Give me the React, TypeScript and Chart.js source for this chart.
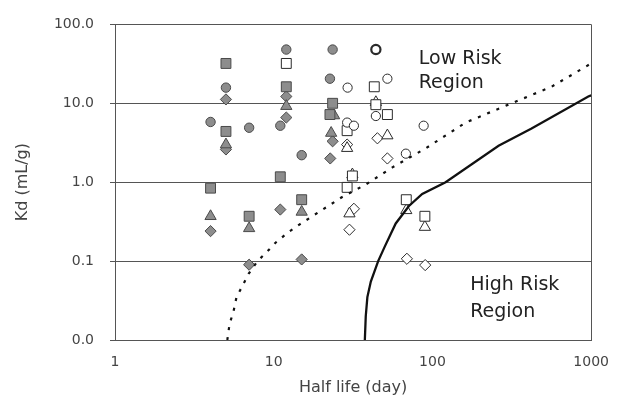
import React, { useEffect, useRef } from "react";
import { Chart, registerables } from "chart.js";

Chart.register(...registerables);

// Axis ticks
const xTickValues = [1, 10, 100, 1000];
const yTickValues = [0.01, 0.1, 1, 10, 100];

// Filled (gray) markers
const filledCircleX = [4, 5, 7, 12, 11, 15, 23.5, 22.6];
const filledCircleY = [5.8, 15.8, 4.9, 48, 5.2, 2.2, 48, 20.5];

const filledSquareX = [5, 5, 4, 12, 11, 15, 7, 23.5, 22.6];
const filledSquareY = [32, 4.4, 0.84, 16.2, 1.17, 0.6, 0.37, 10, 7.2];

const filledTriangleX = [5, 12, 4, 7, 15, 24, 23];
const filledTriangleY = [3.0, 9.2, 0.37, 0.26, 0.42, 7.0, 4.2];

const filledDiamondX = [5, 5, 12, 12, 4, 11, 7, 15, 22.7, 23.5];
const filledDiamondY = [11.2, 2.6, 12.2, 6.6, 0.24, 0.45, 0.09, 0.105, 2.0, 3.3];

// Open (white) markers
const openCircleX = [44, 29.2, 52, 29, 32, 88, 68, 44];
const openCircleY = [48, 15.8, 20.5, 5.7, 5.2, 5.2, 2.3, 6.9];

const openSquareX = [12, 43, 44, 52, 29, 31.3, 29, 68.4, 89.6];
const openSquareY = [32, 16.2, 9.6, 7.2, 4.5, 1.2, 0.86, 0.6, 0.37];

const openTriangleX = [44, 52, 29, 31.3, 30, 68.4, 89.6];
const openTriangleY = [10.3, 3.9, 2.7, 1.25, 0.4, 0.44, 0.27];

const openDiamondX = [45, 29, 52, 32, 30, 69, 90];
const openDiamondY = [3.6, 3.0, 2.0, 0.46, 0.25, 0.107, 0.089];

// Boundary curves
const dottedX = [5.1, 5.27, 5.58, 5.83, 6.37, 6.94, 7.9, 9.0, 10.3, 12.2, 14.5, 27, 38.2, 55.6, 91, 162, 315, 562, 1000];
const dottedY = [0.01, 0.016, 0.023, 0.035, 0.049, 0.069, 0.1, 0.129, 0.172, 0.228, 0.29, 0.65, 0.94, 1.53, 2.7, 5.7, 10, 16.2, 32];

const solidX = [37.5, 38.0, 38.9, 40.9, 45.5, 50.3, 58.7, 71.1, 86.2, 121, 261, 421, 959, 1000];
const solidY = [0.01, 0.02, 0.035, 0.055, 0.1, 0.156, 0.3, 0.5, 0.71, 1, 2.9, 4.8, 12.2, 12.6];

// Region labels
const regionText = ["Low Risk", "Region", "High Risk", "Region"];
const regionX = [82, 82, 173, 173];
const regionY = [36, 18.2, 0.049, 0.0228];

const pts = (xs: number[], ys: number[]) => xs.map((x, i) => ({ x, y: ys[i] }));

const FONT = '"DejaVu Sans", "Liberation Sans", sans-serif';
const FILL = "#8d8d8d";
const EDGE = "#4a4a4a";

const regionPlugin = {
  id: "regionLabels",
  afterDatasetsDraw(chart: any) {
    const { ctx, scales } = chart;
    const xs = scales.x;
    const ys = scales.y;
    ctx.save();
    ctx.font = `19px ${FONT}`;
    ctx.fillStyle = "#222";
    ctx.textAlign = "left";
    ctx.textBaseline = "middle";
    regionText.forEach((t, i) => {
      ctx.fillText(t, xs.getPixelForValue(regionX[i]), ys.getPixelForValue(regionY[i]));
    });
    ctx.restore();
  },
};

export default function App() {
  const ref = useRef<HTMLCanvasElement | null>(null);

  useEffect(() => {
    if (!ref.current) return;
    const marker = (label: string, xs: number[], ys: number[], style: string, radius: number, filled: boolean, bw = 1) => ({
      label,
      data: pts(xs, ys),
      showLine: false,
      pointStyle: style,
      pointRadius: radius,
      pointBackgroundColor: filled ? FILL : "#ffffff",
      pointBorderColor: filled ? EDGE : "#2a2a2a",
      pointBorderWidth: bw,
      backgroundColor: filled ? FILL : "#ffffff",
      borderColor: filled ? EDGE : "#2a2a2a",
    });

    const chart = new Chart(ref.current, {
      type: "scatter",
      data: {
        datasets: [
          {
            label: "dotted",
            data: pts(dottedX, dottedY),
            showLine: true,
            borderColor: "#111",
            borderWidth: 2.2,
            borderDash: [3, 7],
            pointRadius: 0,
            tension: 0,
          },
          {
            label: "solid",
            data: pts(solidX, solidY),
            showLine: true,
            borderColor: "#111",
            borderWidth: 2.3,
            pointRadius: 0,
            tension: 0,
          },
          marker("open circle", openCircleX.slice(1), openCircleY.slice(1), "circle", 4.6, false),
          marker("open circle bold", openCircleX.slice(0, 1), openCircleY.slice(0, 1), "circle", 4.6, false, 2.2),
          marker("open square", openSquareX, openSquareY, "rect", 7, false),
          marker("open triangle", openTriangleX, openTriangleY, "triangle", 6.5, false),
          marker("open diamond", openDiamondX, openDiamondY, "rectRot", 5.6, false),
          marker("filled circle", filledCircleX, filledCircleY, "circle", 4.7, true),
          marker("filled square", filledSquareX, filledSquareY, "rect", 7, true),
          marker("filled triangle", filledTriangleX, filledTriangleY, "triangle", 6.5, true),
          marker("filled diamond", filledDiamondX, filledDiamondY, "rectRot", 5.6, true),
        ],
      },
      options: {
        responsive: true,
        maintainAspectRatio: false,
        animation: false,
        layout: { padding: { top: 16, right: 30, left: 0, bottom: 0 } },
        plugins: {
          legend: { display: false },
          tooltip: { enabled: false },
        },
        scales: {
          x: {
            type: "logarithmic",
            position: "bottom",
            min: 1,
            max: 1000,
            afterBuildTicks: (s: any) => {
              s.ticks = xTickValues.map((v) => ({ value: v }));
            },
            afterFit: (s: any) => {
              s.height = 61;
            },
            ticks: {
              autoSkip: false,
              maxRotation: 0,
              padding: 14,
              color: "#444",
              font: { family: FONT, size: 14 },
              callback: (v: any) => String(v),
            },
            grid: {
              drawTicks: false,
              color: (c: any) => (c.tick && c.tick.value === 1000 ? "#555" : "rgba(0,0,0,0)"),
              lineWidth: 1,
            },
            border: { display: true, color: "#555", width: 1 },
            title: {
              display: true,
              text: "Half life (day)",
              color: "#444",
              font: { family: FONT, size: 16 },
              padding: { top: 0, bottom: 4 },
            },
          },
          y: {
            type: "logarithmic",
            min: 0.01,
            max: 100,
            afterBuildTicks: (s: any) => {
              s.ticks = yTickValues.map((v) => ({ value: v }));
            },
            afterFit: (s: any) => {
              s.width = 115;
            },
            ticks: {
              autoSkip: false,
              padding: 16,
              color: "#444",
              font: { family: FONT, size: 14 },
              callback: (v: any) => Number(v).toFixed(1),
            },
            grid: {
              color: "#555",
              lineWidth: 1,
              drawTicks: true,
              tickLength: 5,
            },
            border: { display: true, color: "#555", width: 1 },
            title: {
              display: true,
              text: "Kd (mL/g)",
              color: "#444",
              font: { family: FONT, size: 16 },
              padding: { top: 13, bottom: 0 },
            },
          },
        },
      },
      plugins: [regionPlugin],
    } as any);

    return () => chart.destroy();
  }, []);

  return (
    <div style={{ position: "absolute", left: 0, top: 0, width: 623, height: 401, background: "#fff" }}>
      <canvas ref={ref} />
    </div>
  );
}
